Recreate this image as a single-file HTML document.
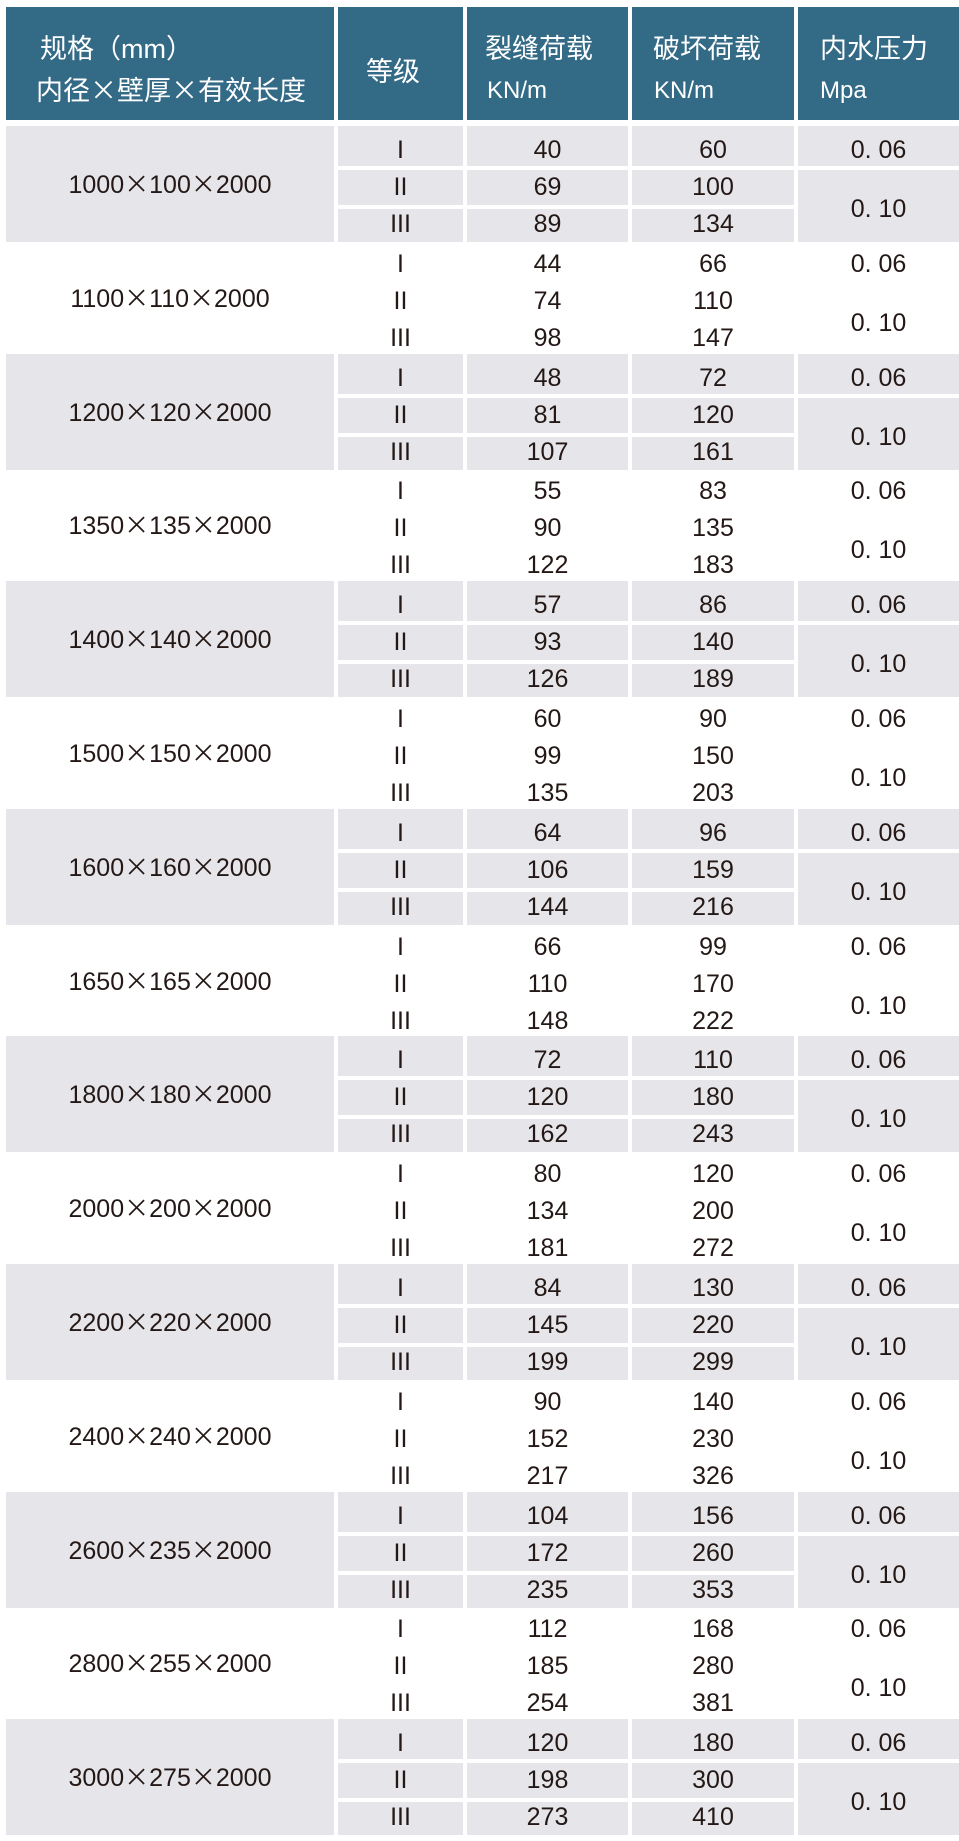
<!DOCTYPE html>
<html><head><meta charset="utf-8"><style>
body{margin:0;width:959px;height:1838px;background:#fff;position:relative;overflow:hidden;font-family:"Liberation Sans","Noto Sans CJK SC",sans-serif;color:#231815}
.h{position:absolute;top:7px;height:113px;background:#336a86;color:#fff}
.g{position:absolute;left:0;width:959px;height:116px}
.g div{position:absolute;text-align:center;font-size:25px;white-space:nowrap}
.gray div{background:#e6e5ea}
.c1{left:6px;width:328px;top:0;height:116px;line-height:114px}
.k2{left:338px;width:125px}.k3{left:467px;width:161px}.k4{left:632px;width:162px}.k5{left:798px;width:161px}
.a{top:0;height:40px;line-height:48px}
.b{top:44px;height:35px;line-height:35px}
.c{top:83px;height:33px;line-height:30px}
.m{top:44px;height:72px;line-height:78px}
.x{font-family:"Noto Sans CJK SC",sans-serif}
.ht{position:absolute;font-size:27px;line-height:40px;white-space:nowrap}
.hl{font-family:"Liberation Sans",sans-serif;font-size:24px}
</style></head><body>
<div class="h" style="left:6px;width:328px"><div class="ht" style="left:34px;top:22px">规格（mm）</div><div class="ht" style="left:30px;top:62px">内径<span class="x">×</span>壁厚<span class="x">×</span>有效长度</div></div>
<div class="h" style="left:338px;width:125px"><div class="ht" style="left:28px;top:45px">等级</div></div>
<div class="h" style="left:467px;width:161px"><div class="ht" style="left:18px;top:22px">裂缝荷载</div><div class="ht hl" style="left:20px;top:64px">KN/m</div></div>
<div class="h" style="left:632px;width:162px"><div class="ht" style="left:21px;top:22px">破坏荷载</div><div class="ht hl" style="left:22px;top:64px">KN/m</div></div>
<div class="h" style="left:798px;width:161px"><div class="ht" style="left:22px;top:22px">内水压力</div><div class="ht hl" style="left:22px;top:64px">Mpa</div></div>

<div class="g gray" style="top:126px"><div class="c1">1000<span class="x">×</span>100<span class="x">×</span>2000</div><div class="k2 a">I</div><div class="k2 b">II</div><div class="k2 c">III</div><div class="k3 a">40</div><div class="k3 b">69</div><div class="k3 c">89</div><div class="k4 a">60</div><div class="k4 b">100</div><div class="k4 c">134</div><div class="k5 a">0. 06</div><div class="k5 m">0. 10</div></div>
<div class="g" style="top:240px"><div class="c1">1100<span class="x">×</span>110<span class="x">×</span>2000</div><div class="k2 a">I</div><div class="k2 b">II</div><div class="k2 c">III</div><div class="k3 a">44</div><div class="k3 b">74</div><div class="k3 c">98</div><div class="k4 a">66</div><div class="k4 b">110</div><div class="k4 c">147</div><div class="k5 a">0. 06</div><div class="k5 m">0. 10</div></div>
<div class="g gray" style="top:354px"><div class="c1">1200<span class="x">×</span>120<span class="x">×</span>2000</div><div class="k2 a">I</div><div class="k2 b">II</div><div class="k2 c">III</div><div class="k3 a">48</div><div class="k3 b">81</div><div class="k3 c">107</div><div class="k4 a">72</div><div class="k4 b">120</div><div class="k4 c">161</div><div class="k5 a">0. 06</div><div class="k5 m">0. 10</div></div>
<div class="g" style="top:467px"><div class="c1">1350<span class="x">×</span>135<span class="x">×</span>2000</div><div class="k2 a">I</div><div class="k2 b">II</div><div class="k2 c">III</div><div class="k3 a">55</div><div class="k3 b">90</div><div class="k3 c">122</div><div class="k4 a">83</div><div class="k4 b">135</div><div class="k4 c">183</div><div class="k5 a">0. 06</div><div class="k5 m">0. 10</div></div>
<div class="g gray" style="top:581px"><div class="c1">1400<span class="x">×</span>140<span class="x">×</span>2000</div><div class="k2 a">I</div><div class="k2 b">II</div><div class="k2 c">III</div><div class="k3 a">57</div><div class="k3 b">93</div><div class="k3 c">126</div><div class="k4 a">86</div><div class="k4 b">140</div><div class="k4 c">189</div><div class="k5 a">0. 06</div><div class="k5 m">0. 10</div></div>
<div class="g" style="top:695px"><div class="c1">1500<span class="x">×</span>150<span class="x">×</span>2000</div><div class="k2 a">I</div><div class="k2 b">II</div><div class="k2 c">III</div><div class="k3 a">60</div><div class="k3 b">99</div><div class="k3 c">135</div><div class="k4 a">90</div><div class="k4 b">150</div><div class="k4 c">203</div><div class="k5 a">0. 06</div><div class="k5 m">0. 10</div></div>
<div class="g gray" style="top:809px"><div class="c1">1600<span class="x">×</span>160<span class="x">×</span>2000</div><div class="k2 a">I</div><div class="k2 b">II</div><div class="k2 c">III</div><div class="k3 a">64</div><div class="k3 b">106</div><div class="k3 c">144</div><div class="k4 a">96</div><div class="k4 b">159</div><div class="k4 c">216</div><div class="k5 a">0. 06</div><div class="k5 m">0. 10</div></div>
<div class="g" style="top:923px"><div class="c1">1650<span class="x">×</span>165<span class="x">×</span>2000</div><div class="k2 a">I</div><div class="k2 b">II</div><div class="k2 c">III</div><div class="k3 a">66</div><div class="k3 b">110</div><div class="k3 c">148</div><div class="k4 a">99</div><div class="k4 b">170</div><div class="k4 c">222</div><div class="k5 a">0. 06</div><div class="k5 m">0. 10</div></div>
<div class="g gray" style="top:1036px"><div class="c1">1800<span class="x">×</span>180<span class="x">×</span>2000</div><div class="k2 a">I</div><div class="k2 b">II</div><div class="k2 c">III</div><div class="k3 a">72</div><div class="k3 b">120</div><div class="k3 c">162</div><div class="k4 a">110</div><div class="k4 b">180</div><div class="k4 c">243</div><div class="k5 a">0. 06</div><div class="k5 m">0. 10</div></div>
<div class="g" style="top:1150px"><div class="c1">2000<span class="x">×</span>200<span class="x">×</span>2000</div><div class="k2 a">I</div><div class="k2 b">II</div><div class="k2 c">III</div><div class="k3 a">80</div><div class="k3 b">134</div><div class="k3 c">181</div><div class="k4 a">120</div><div class="k4 b">200</div><div class="k4 c">272</div><div class="k5 a">0. 06</div><div class="k5 m">0. 10</div></div>
<div class="g gray" style="top:1264px"><div class="c1">2200<span class="x">×</span>220<span class="x">×</span>2000</div><div class="k2 a">I</div><div class="k2 b">II</div><div class="k2 c">III</div><div class="k3 a">84</div><div class="k3 b">145</div><div class="k3 c">199</div><div class="k4 a">130</div><div class="k4 b">220</div><div class="k4 c">299</div><div class="k5 a">0. 06</div><div class="k5 m">0. 10</div></div>
<div class="g" style="top:1378px"><div class="c1">2400<span class="x">×</span>240<span class="x">×</span>2000</div><div class="k2 a">I</div><div class="k2 b">II</div><div class="k2 c">III</div><div class="k3 a">90</div><div class="k3 b">152</div><div class="k3 c">217</div><div class="k4 a">140</div><div class="k4 b">230</div><div class="k4 c">326</div><div class="k5 a">0. 06</div><div class="k5 m">0. 10</div></div>
<div class="g gray" style="top:1492px"><div class="c1">2600<span class="x">×</span>235<span class="x">×</span>2000</div><div class="k2 a">I</div><div class="k2 b">II</div><div class="k2 c">III</div><div class="k3 a">104</div><div class="k3 b">172</div><div class="k3 c">235</div><div class="k4 a">156</div><div class="k4 b">260</div><div class="k4 c">353</div><div class="k5 a">0. 06</div><div class="k5 m">0. 10</div></div>
<div class="g" style="top:1605px"><div class="c1">2800<span class="x">×</span>255<span class="x">×</span>2000</div><div class="k2 a">I</div><div class="k2 b">II</div><div class="k2 c">III</div><div class="k3 a">112</div><div class="k3 b">185</div><div class="k3 c">254</div><div class="k4 a">168</div><div class="k4 b">280</div><div class="k4 c">381</div><div class="k5 a">0. 06</div><div class="k5 m">0. 10</div></div>
<div class="g gray" style="top:1719px"><div class="c1">3000<span class="x">×</span>275<span class="x">×</span>2000</div><div class="k2 a">I</div><div class="k2 b">II</div><div class="k2 c">III</div><div class="k3 a">120</div><div class="k3 b">198</div><div class="k3 c">273</div><div class="k4 a">180</div><div class="k4 b">300</div><div class="k4 c">410</div><div class="k5 a">0. 06</div><div class="k5 m">0. 10</div></div>
</body></html>
